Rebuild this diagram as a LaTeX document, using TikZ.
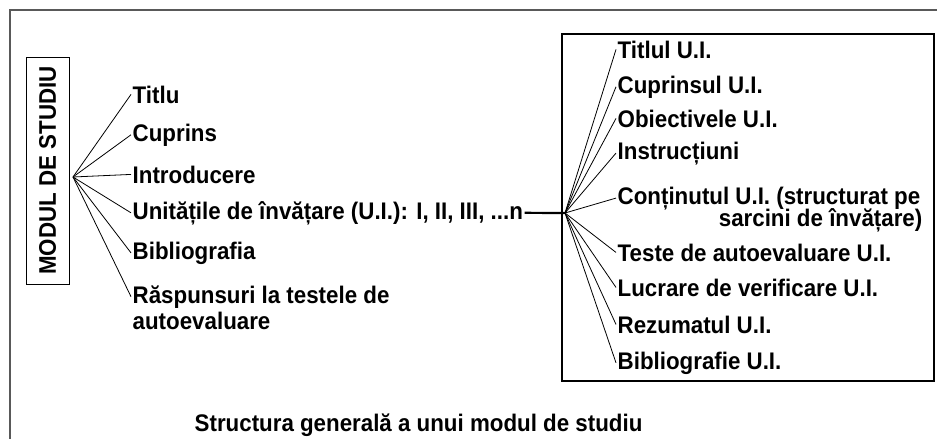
\documentclass[tikz,border=0pt]{standalone}
\usepackage{fontspec}
\setmainfont{Liberation Sans}[FakeStretch=0.93]
\begin{document}
\begin{tikzpicture}[x=1pt,y=-1pt,
  lbl/.style={font=\fontsize{24}{28}\selectfont\bfseries, inner sep=1.5pt, anchor=base west},
  conn/.style={line width=0.8pt},
]
\useasboundingbox (0,0) rectangle (937,439);
% outer frame (cropped)
\draw[line width=2pt, black!65] (10,439) -- (10,10) -- (937,10);
% left vertical box
\node[draw, line width=1pt, rotate=90, minimum width=227pt, minimum height=43pt, inner sep=0pt,
      font=\fontsize{24}{28}\selectfont\bfseries] (mod) at (47.5,170.5) {MODUL DE STUDIU};
\coordinate (fanL) at (73,177);
% left items
\node[lbl] (titlu) at (131,103) {Titlu};
\node[lbl] (cuprins) at (131,141) {Cuprins};
\node[lbl] (intro) at (131,183) {Introducere};
\node[lbl] (unit) at (131,219) {Unitățile de învățare (U.I.): I, II, III, ...n};
\node[lbl] (biblio) at (131,259) {Bibliografia};
\node[lbl] (rasp) at (131,303) {Răspunsuri la testele de};
\node[lbl] (rasp2) at (131,329) {autoevaluare};
\foreach \n in {titlu,cuprins,intro,unit,biblio,rasp}
  \draw[conn] (fanL) -- (\n.west);
% right box
\node[draw, line width=1.2pt, minimum width=372pt, minimum height=347pt, inner sep=0pt] (ubox) at (748,207.5) {};
\coordinate (fanR) at (565,213);
\draw[line width=2.2pt] (unit.east) -- (fanR);
\node[lbl] (r1) at (616,58) {Titlul U.I.};
\node[lbl] (r2) at (616,93) {Cuprinsul U.I.};
\node[lbl] (r3) at (616,127) {Obiectivele U.I.};
\node[lbl] (r4) at (616,159) {Instrucțiuni};
\node[lbl] (r5) at (616,204) {Conținutul U.I. (structurat pe};
\node[lbl, anchor=base east] (r5b) at (924,226) {sarcini de învățare)};
\node[lbl] (r6) at (616,261) {Teste de autoevaluare U.I.};
\node[lbl] (r7) at (616,296) {Lucrare de verificare U.I.};
\node[lbl] (r8) at (616,333) {Rezumatul U.I.};
\node[lbl] (r9) at (616,369) {Bibliografie U.I.};
\foreach \n in {r1,r2,r3,r4,r5,r6,r7,r8,r9}
  \draw[conn] (fanR) -- (\n.west);
% caption
\node[lbl] (cap) at (193,431) {Structura generală a unui modul de studiu};
\end{tikzpicture}
\end{document}
